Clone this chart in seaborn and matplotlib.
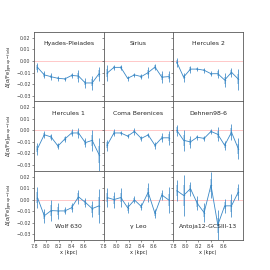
import numpy as np
import pandas as pd
import seaborn as sns
import matplotlib.pyplot as plt

# bin centres (kpc)
x_kpc = [7.855, 7.965, 8.075, 8.185, 8.295, 8.405, 8.515, 8.625, 8.735, 8.845]

groups = ['Hyades-Pleiades', 'Sirius', 'Hercules 2',
          'Hercules 1', 'Coma Berenices', 'Dehnen98-6',
          'Wolf 630', 'γ Leo', 'Antoja12-GCSIII-13']

delta = {
    'Hyades-Pleiades':    [-0.0055, -0.012, -0.0136, -0.015, -0.0155, -0.0125, -0.013, -0.019, -0.019, -0.011],
    'Sirius':             [-0.0105, -0.0055, -0.0055, -0.015, -0.012, -0.0135, -0.010, -0.0052, -0.014, -0.0135],
    'Hercules 2':         [-0.001, -0.014, -0.007, -0.007, -0.008, -0.011, -0.011, -0.0165, -0.0098, -0.0157],
    'Hercules 1':         [-0.016, -0.0038, -0.0058, -0.0136, -0.0075, -0.0023, -0.0023, -0.0107, -0.0087, -0.021],
    'Coma Berenices':     [-0.013, -0.0023, -0.0023, -0.005, -0.001, -0.007, -0.004, -0.013, -0.0065, -0.0065],
    'Dehnen98-6':         [0.0, -0.0087, -0.010, -0.006, -0.007, -0.001, -0.0035, -0.013, -0.0017, -0.016],
    'Wolf 630':           [0.0018, -0.014, -0.0095, -0.0098, -0.0098, -0.007, 0.0024, -0.0024, -0.0078, -0.0054],
    'γ Leo':              [0.0018, 0.0, 0.0018, -0.007, -0.0003, -0.006, 0.0063, -0.012, 0.004, -0.0003],
    'Antoja12-GCSIII-13': [0.0078, 0.0036, 0.0095, -0.0033, -0.0113, 0.0125, -0.022, -0.0054, -0.0054, 0.0066],
}

errors = {
    'Hyades-Pleiades':    [0.004, 0.003, 0.003, 0.002, 0.002, 0.002, 0.005, 0.004, 0.006, 0.006],
    'Sirius':             [0.007, 0.002, 0.002, 0.002, 0.002, 0.002, 0.005, 0.003, 0.005, 0.005],
    'Hercules 2':         [0.004, 0.004, 0.003, 0.002, 0.002, 0.002, 0.004, 0.006, 0.004, 0.009],
    'Hercules 1':         [0.005, 0.003, 0.003, 0.003, 0.003, 0.003, 0.004, 0.004, 0.009, 0.014],
    'Coma Berenices':     [0.005, 0.003, 0.002, 0.002, 0.003, 0.002, 0.002, 0.003, 0.004, 0.006],
    'Dehnen98-6':         [0.005, 0.009, 0.005, 0.002, 0.002, 0.002, 0.006, 0.004, 0.007, 0.009],
    'Wolf 630':           [0.009, 0.006, 0.009, 0.007, 0.003, 0.004, 0.006, 0.004, 0.007, 0.015],
    'γ Leo':              [0.008, 0.007, 0.008, 0.005, 0.003, 0.003, 0.008, 0.004, 0.004, 0.011],
    'Antoja12-GCSIII-13': [0.009, 0.018, 0.006, 0.006, 0.008, 0.011, 0.013, 0.006, 0.010, 0.007],
}

sns.set_style('ticks')
plt.rcParams['font.family'] = ['DejaVu Sans']

fig, axes = plt.subplots(3, 3, figsize=(2.7, 2.7), dpi=100, sharex=True, sharey=True,
                         gridspec_kw={'wspace': 0, 'hspace': 0})
fig.subplots_adjust(left=0.126, right=0.9, top=0.881, bottom=0.111)

for i, name in enumerate(groups):
    ax = axes[i // 3, i % 3]
    df = pd.DataFrame({'x': x_kpc, 'y': delta[name], 'err': errors[name]})
    ax.axhline(0, color='red', alpha=0.25, lw=0.6)
    sns.lineplot(data=df, x='x', y='y', ax=ax, color='#3a88c6', lw=0.6,
                 marker='o', markersize=1.0, markeredgewidth=0)
    ax.errorbar(df['x'], df['y'], yerr=df['err'], fmt='none', ecolor='#3a88c6', elinewidth=0.55)
    ax.errorbar(df['x'], df['y'], yerr=df['err'] * 0.5, fmt='none', ecolor='#3a88c6',
                elinewidth=1.4, alpha=0.35)
    if i < 6:
        ax.text(0.5, 0.83, name, transform=ax.transAxes, ha='center', va='center', fontsize=4.4)
    else:
        ax.text(0.5, 0.2, name, transform=ax.transAxes, ha='center', va='center', fontsize=4.4)
    ax.set_xlim(7.8, 8.92)
    ax.set_ylim(-0.035, 0.025)
    ax.set_xticks([7.8, 8.0, 8.2, 8.4, 8.6])
    ax.set_yticks([-0.03, -0.02, -0.01, 0.0, 0.01, 0.02])
    ax.tick_params(labelsize=3.4, length=1.5, width=0.4, pad=1, colors='0.25')
    for s in ax.spines.values():
        s.set_color('0.35')
        s.set_linewidth(0.6)
    if i % 3 == 0:
        ax.set_ylabel(r'$\Delta[\alpha/\mathrm{Fe}]_{\mathrm{group}-\mathrm{field}}$', fontsize=3.6, labelpad=1)
    else:
        ax.set_ylabel('')
    if i >= 6:
        ax.set_xlabel('x (kpc)', fontsize=3.6, labelpad=1)
    else:
        ax.set_xlabel('')

fig.savefig('out.png', dpi=100)
